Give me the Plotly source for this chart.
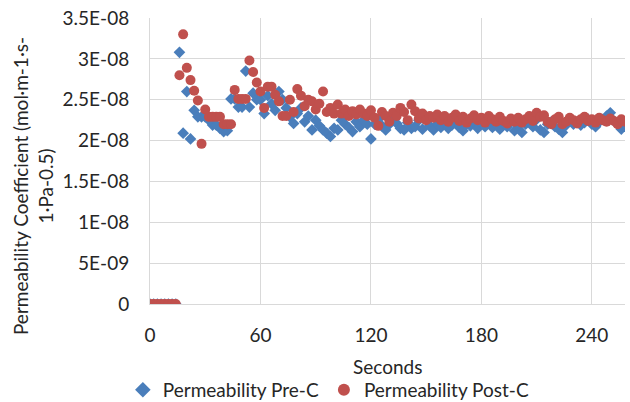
import plotly.graph_objects as go

# Sampling times (seconds)
seconds = [0, 2, 4, 6, 8, 10, 12, 14, 16, 18, 20, 22, 24, 26, 28, 30, 32, 34, 36, 38,
           40, 42, 44, 46, 48, 50, 52, 54, 56, 58, 60, 62, 64, 66, 68, 70, 72, 74, 76, 78,
           80, 82, 84, 86, 88, 90, 92, 94, 96, 98, 100, 102, 104, 106, 108, 110, 112, 114, 116, 118,
           120, 122, 124, 126, 128, 130, 132, 134, 136, 138, 140, 142, 144, 146, 148, 150, 152, 154, 156, 158,
           160, 162, 164, 166, 168, 170, 172, 174, 176, 178, 180, 182, 184, 186, 188, 190, 192, 194, 196, 198,
           200, 202, 204, 206, 208, 210, 212, 214, 216, 218, 220, 222, 224, 226, 228, 230, 232, 234, 236, 238,
           240, 242, 244, 246, 248, 250, 252, 254, 256, 258]

# Values in units of 1E-09 mol·m-1·s-1·Pa-0.5
pre_c = [0, 0, 0, 0, 0, 0, 0, 0, 30.8, 20.9, 26.0, 20.2, 23.7, 22.9, 22.9, 22.9, 22.5, 21.9, 21.9, 21.5,
         21.1, 21.2, 25.1, 25.1, 24.1, 24.1, 28.5, 24.1, 25.8, 25.0, 25.0, 23.3, 25.5, 24.5, 23.7, 26.0, 25.0, 24.0, 22.9, 22.1,
         23.3, 24.0, 22.3, 23.0, 21.3, 22.5, 21.8, 21.3, 20.9, 20.5, 21.5, 21.3, 22.5, 22.0, 21.6, 21.1, 22.3, 21.7, 22.5, 22.0,
         20.2, 22.0, 22.6, 21.8, 21.3, 22.0, 22.6, 22.1, 21.5, 21.3, 22.2, 21.5, 21.7, 22.5, 21.4, 22.9, 21.8, 21.3, 22.0, 21.6,
         22.3, 21.5, 21.9, 22.4, 21.6, 21.2, 22.0, 21.8, 22.3, 21.5, 22.1, 21.7, 22.4, 21.6, 22.0, 21.4, 22.2, 21.7, 22.5, 21.2,
         21.8, 21.0, 22.0, 22.4, 21.7, 22.6, 21.3, 21.0, 22.0, 22.3, 21.7, 21.4, 21.0, 21.9, 22.5, 22.0, 22.3, 21.9, 22.2, 22.6,
         22.0, 21.7, 22.3, 22.6, 23.0, 23.4, 22.4, 22.0, 21.4, 22.1]

post_c = [0, 0, 0, 0, 0, 0, 0, 0, 28.0, 33.0, 28.9, 27.4, 26.1, 24.9, 19.6, 23.8, 22.9, 22.9, 22.9, 22.9,
          22.0, 22.0, 22.0, 26.2, 25.1, 25.1, 25.1, 29.8, 28.4, 27.1, 26.0, 24.0, 26.6, 26.6, 25.6, 24.8, 23.0, 23.0, 25.0, 23.5,
          26.3, 25.5, 24.2, 25.0, 24.8, 23.8, 24.5, 26.0, 23.5, 24.0, 23.3, 24.4, 23.3, 23.8, 23.0, 23.6, 23.2, 23.8, 23.3, 23.0,
          23.7, 22.8, 21.8, 23.5, 23.0, 22.3, 23.4, 23.0, 24.0, 23.5, 22.5, 24.4, 23.6, 22.7, 23.3, 22.5, 23.0, 22.8, 23.2, 22.5,
          23.0, 22.3, 22.8, 23.2, 22.4, 22.9, 22.2, 22.7, 23.1, 22.5, 22.8, 22.2, 23.0, 22.6, 22.3, 22.9, 22.4, 22.1, 22.7, 22.3,
          22.8, 22.2, 22.6, 23.0, 22.4, 23.4, 22.9, 23.1, 22.3, 22.0, 22.6, 22.9, 22.0, 22.3, 22.8, 22.5, 22.1, 22.6, 22.9, 22.4,
          22.6, 22.2, 22.8, 22.5, 22.3, 22.7, 22.4, 22.0, 22.6, 22.3]

UNIT = 1e-9

y_tickvals = [0, 5e-9, 1e-8, 1.5e-8, 2e-8, 2.5e-8, 3e-8, 3.5e-8]
y_ticktext = ["0", "5E-09", "1E-08", "1.5E-08", "2E-08", "2.5E-08", "3E-08", "3.5E-08"]
x_tickvals = [0, 60, 120, 180, 240]

FONT = "Lato"
FS = 19
TXT = "#262626"
GRID = "#d9d9d9"
f = dict(family=FONT, size=FS, color=TXT)

fig = go.Figure()
fig.add_trace(go.Scatter(
    x=seconds, y=[v * UNIT for v in pre_c], mode="markers",
    name="Permeability Pre-C",
    marker=dict(symbol="diamond", size=9, color="#4a7ebb"),
))
fig.add_trace(go.Scatter(
    x=seconds, y=[v * UNIT for v in post_c], mode="markers",
    name="Permeability Post-C",
    marker=dict(symbol="circle", size=10, color="#c0504d"),
))

fig.update_layout(
    width=630, height=402,
    margin=dict(l=150, r=5, t=18, b=98),
    paper_bgcolor="white", plot_bgcolor="white",
    font=f,
    showlegend=True,
    legend=dict(orientation="h", xref="container", yref="container",
                x=0.522, xanchor="center", y=0.03, yanchor="middle",
                font=f, itemsizing="constant", tracegroupgap=0, itemwidth=30),
    xaxis=dict(range=[0, 258], tickvals=x_tickvals, showgrid=True, gridcolor=GRID,
               gridwidth=1, showline=True, linecolor=GRID, linewidth=1, zeroline=False,
               ticks="", tickfont=f, ticklabelstandoff=14, automargin=False),
    yaxis=dict(range=[0, 3.5e-8], tickvals=y_tickvals, ticktext=y_ticktext, showgrid=True,
               gridcolor=GRID, gridwidth=1, showline=True, linecolor=GRID, linewidth=1,
               zeroline=False, ticks="", ticklen=0, tickfont=f, ticklabelstandoff=16,
               automargin=False),
    annotations=[
        dict(text="Permeability Coefficient (mol·m-1·s-<br>1·Pa-0.5)",
             xref="paper", yref="paper", x=-0.246, y=0.413,
             xanchor="center", yanchor="middle", textangle=-90, showarrow=False, font=f),
        dict(text="Seconds", xref="paper", yref="paper", x=0.5, y=-0.22,
             xanchor="center", yanchor="middle", showarrow=False, font=f),
    ],
)

fig.write_html("out.html")
